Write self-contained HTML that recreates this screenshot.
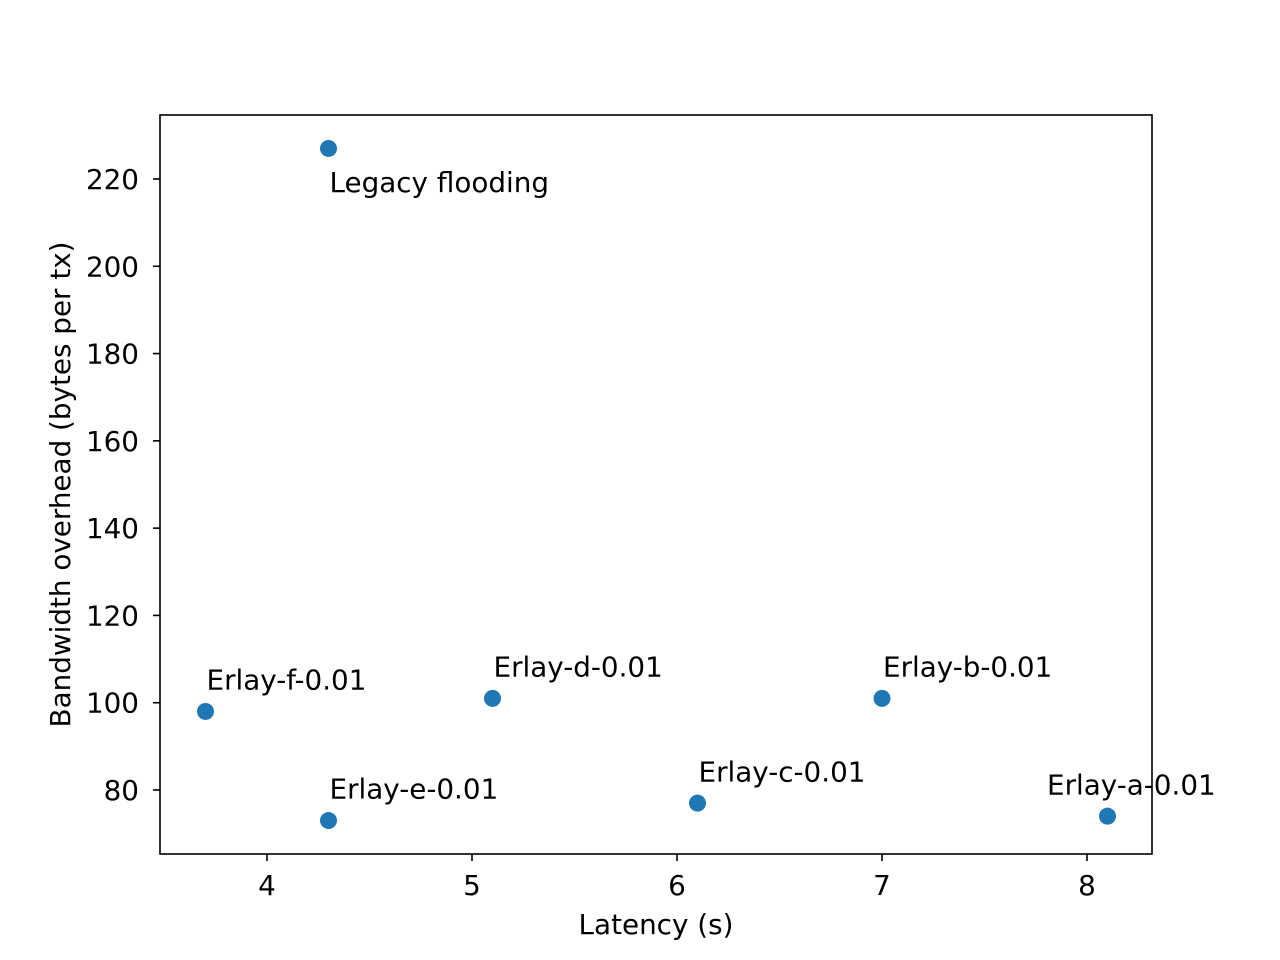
<!DOCTYPE html>
<html><head><meta charset="utf-8"><style>
html,body{margin:0;padding:0;background:#fff;width:1280px;height:960px;overflow:hidden}
svg text{font-family:"DejaVu Sans","Liberation Sans",sans-serif;font-size:27.8px;fill:#000}
</style></head><body>
<svg id="chart" width="1280" height="960"></svg>
<script>
const names = ["Legacy flooding","Erlay-f-0.01","Erlay-e-0.01","Erlay-d-0.01","Erlay-c-0.01","Erlay-b-0.01","Erlay-a-0.01"];
const latency = [4.3,3.7,4.3,5.1,6.1,7.0,8.1];
const overhead = [227,98,73,101,77,101,74];
const labelDy = [-10,5,5,5,5,5,5];
const labelDx = [0,0,0,0,0,0,-0.3];
const xTicks = [4,5,6,7,8];
const yTicks = [80,100,120,140,160,180,200,220];

const L=160,R=1152,T=115,B=854;
const sx=v=>267+(v-4)*205;
const sy=v=>790-(v-80)*(611/140);
const svg=document.getElementById('chart');
const NS='http://www.w3.org/2000/svg';
function mk(tag,attrs,parent){const e=document.createElementNS(NS,tag);for(const k in attrs)e.setAttribute(k,attrs[k]);(parent||svg).appendChild(e);return e;}

const frame=mk('rect',{x:L,y:T,width:R-L,height:B-T,fill:'none',stroke:'#000','stroke-width':1.6});



xTicks.forEach(t=>{
  const x=sx(t);
  const tk=mk('line',{x1:x,x2:x,y1:B,y2:B+7,stroke:'#000','stroke-width':1.6});
  
  
  const tx=mk('text',{x:x,y:B+41,'text-anchor':'middle'});tx.textContent=t;
  
  
});
yTicks.forEach(t=>{
  const y=sy(t);
  const tk=mk('line',{x1:L-7,x2:L,y1:y,y2:y,stroke:'#000','stroke-width':1.6});
  
  
  const tx=mk('text',{x:L-21,y:y+10,'text-anchor':'end'});tx.textContent=t;
  
  
});

const xl=mk('text',{x:(L+R)/2,y:934,'text-anchor':'middle'});xl.textContent='Latency (s)';


const yl=mk('text',{x:0,y:0,'text-anchor':'middle',transform:`translate(70,${(T+B)/2}) rotate(-90)`});yl.textContent='Bandwidth overhead (bytes per tx)';



names.forEach((n,i)=>{
  const c=mk('circle',{cx:sx(latency[i]),cy:sy(overhead[i]),r:8.5,fill:'#1f77b4'});
  
  
  const t=mk('text',{x:sx(latency[i]+labelDx[i])+1,y:sy(overhead[i]+labelDy[i])});t.textContent=n;
  
  
});
</script>
</body></html>
